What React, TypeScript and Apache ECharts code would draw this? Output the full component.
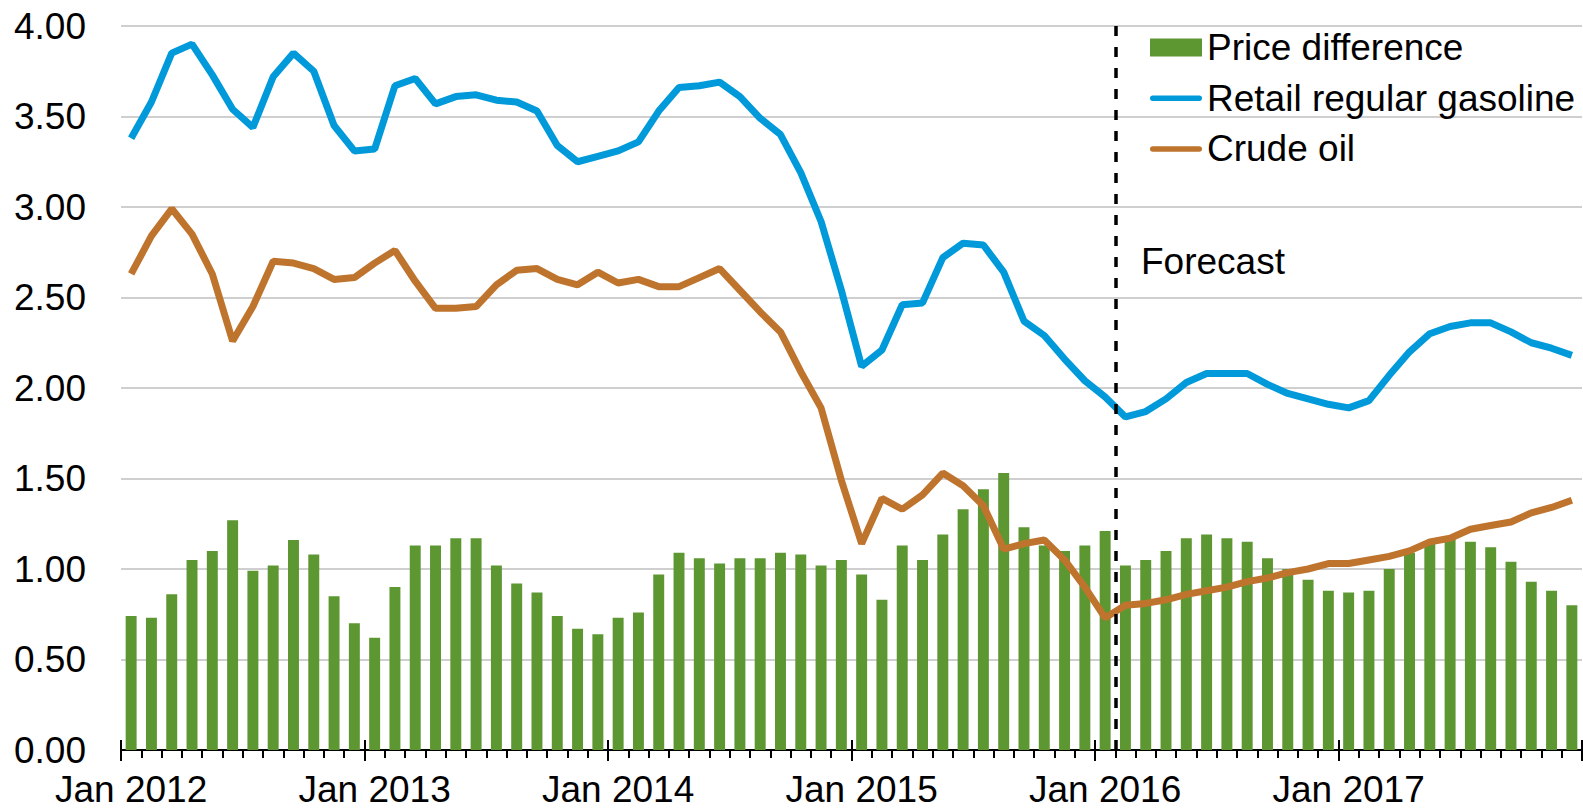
import React, { useEffect, useRef } from "react";
import * as echarts from "echarts";

const MONTHS = ["Jan", "Feb", "Mar", "Apr", "May", "Jun", "Jul", "Aug", "Sep", "Oct", "Nov", "Dec"];
const YEARS = [2012, 2013, 2014, 2015, 2016, 2017];
const categories: string[] = YEARS.flatMap((y) => MONTHS.map((m) => `${m} ${y}`));

const priceDifference = [
  0.74, 0.73, 0.86, 1.05, 1.10, 1.27, 0.99, 1.02, 1.16, 1.08, 0.85, 0.70,
  0.62, 0.90, 1.13, 1.13, 1.17, 1.17, 1.02, 0.92, 0.87, 0.74, 0.67, 0.64,
  0.73, 0.76, 0.97, 1.09, 1.06, 1.03, 1.06, 1.06, 1.09, 1.08, 1.02, 1.05,
  0.97, 0.83, 1.13, 1.05, 1.19, 1.33, 1.44, 1.53, 1.23, 1.13, 1.10, 1.13,
  1.21, 1.02, 1.05, 1.10, 1.17, 1.19, 1.17, 1.15, 1.06, 1.00, 0.94, 0.88,
  0.87, 0.88, 1.00, 1.09, 1.15, 1.17, 1.15, 1.12, 1.04, 0.93, 0.88, 0.80,
];

const retailGasoline = [
  3.38, 3.58, 3.85, 3.90, 3.73, 3.54, 3.44, 3.72, 3.85, 3.75, 3.45, 3.31,
  3.32, 3.67, 3.71, 3.57, 3.61, 3.62, 3.59, 3.58, 3.53, 3.34, 3.25, 3.28,
  3.31, 3.36, 3.53, 3.66, 3.67, 3.69, 3.61, 3.49, 3.40, 3.19, 2.92, 2.54,
  2.12, 2.21, 2.46, 2.47, 2.72, 2.80, 2.79, 2.64, 2.37, 2.29, 2.16, 2.04,
  1.95, 1.84, 1.87, 1.94, 2.03, 2.08, 2.08, 2.08, 2.02, 1.97, 1.94, 1.91,
  1.89, 1.93, 2.07, 2.20, 2.30, 2.34, 2.36, 2.36, 2.31, 2.25, 2.22, 2.18,
];

const crudeOil = [
  2.63, 2.84, 2.99, 2.85, 2.63, 2.26, 2.45, 2.70, 2.69, 2.66, 2.60, 2.61,
  2.69, 2.76, 2.59, 2.44, 2.44, 2.45, 2.57, 2.65, 2.66, 2.60, 2.57, 2.64,
  2.58, 2.60, 2.56, 2.56, 2.61, 2.66, 2.54, 2.42, 2.31, 2.09, 1.89, 1.49,
  1.14, 1.39, 1.33, 1.41, 1.53, 1.46, 1.35, 1.11, 1.14, 1.16, 1.05, 0.90,
  0.73, 0.80, 0.81, 0.83, 0.86, 0.88, 0.90, 0.93, 0.95, 0.98, 1.00, 1.03,
  1.03, 1.05, 1.07, 1.10, 1.15, 1.17, 1.22, 1.24, 1.26, 1.31, 1.34, 1.38,
];

// Forecast starts after Jan 2016 (boundary after category index 48)
const forecastBoundary = 49;
const forecastLabel = "Forecast";

const FONT = "'Liberation Sans', Arial, sans-serif";
const GREEN = "#5D9732";
const BLUE = "#009ADA";
const BROWN = "#BF742E";
const LINE_ICON = "path://M2.75,0 H49.25 A2.75,2.75 0 0 1 49.25,5.5 H2.75 A2.75,2.75 0 0 1 2.75,0 Z";

export default function App() {
  const ref = useRef<HTMLDivElement>(null);
  useEffect(() => {
    if (!ref.current) return;
    const chart = echarts.init(ref.current, undefined, { renderer: "svg" });
    const grid = { left: 121, right: 1, top: 26, bottom: 61 };
    chart.setOption({
      animation: false,
      textStyle: { fontFamily: FONT },
      grid,
      legend: {
        orient: "vertical",
        left: 1150,
        top: 29,
        padding: 0,
        itemWidth: 52,
        itemHeight: 18,
        itemGap: 13.7,
        textStyle: { fontSize: 37, color: "#000", fontFamily: FONT },
        data: [
          { name: "Price difference", icon: "rect" },
          { name: "Retail regular gasoline", icon: LINE_ICON, itemStyle: { color: BLUE } },
          { name: "Crude oil", icon: LINE_ICON, itemStyle: { color: BROWN } },
        ],
      },
      xAxis: [
        {
          type: "category",
          data: categories,
          boundaryGap: true,
          axisLine: { show: true, lineStyle: { color: "#000", width: 2 } },
          axisTick: { show: true, interval: 0, length: 8, lineStyle: { color: "#000", width: 2 } },
          axisLabel: {
            interval: 11,
            fontSize: 37,
            color: "#000",
            fontFamily: FONT,
            margin: 21,
          },
          splitLine: { show: false },
        },
        {
          type: "category",
          data: categories,
          position: "bottom",
          boundaryGap: true,
          axisLine: { show: false },
          axisTick: { show: true, interval: 11, length: 11, lineStyle: { color: "#000", width: 2 } },
          axisLabel: { show: false },
          splitLine: { show: false },
        },
        {
          type: "category",
          data: categories,
          position: "bottom",
          boundaryGap: true,
          axisLine: { show: false },
          axisTick: { show: true, inside: true, interval: 11, length: 10, lineStyle: { color: "#000", width: 2 } },
          axisLabel: { show: false },
          splitLine: { show: false },
        },
        {
          type: "value",
          min: 0,
          max: categories.length,
          show: false,
        },
      ],
      yAxis: {
        type: "value",
        min: 0,
        max: 4,
        interval: 0.5,
        axisLine: { show: false },
        axisTick: { show: false },
        axisLabel: {
          formatter: (v: number) => v.toFixed(2),
          fontSize: 37,
          color: "#000",
          fontFamily: FONT,
          margin: 35,
        },
        splitLine: { show: true, lineStyle: { color: "#BFBFBF", width: 1.5 } },
      },
      series: [
        {
          name: "Price difference",
          type: "bar",
          data: priceDifference,
          barWidth: "54%",
          itemStyle: { color: GREEN },
          z: 2,
        },
        {
          name: "Retail regular gasoline",
          type: "line",
          data: retailGasoline,
          showSymbol: false,
          symbol: "none",
          itemStyle: { color: BLUE },
          lineStyle: { color: BLUE, width: 7 },
          emphasis: { disabled: true },
          z: 3,
        },
        {
          name: "Crude oil",
          type: "line",
          data: crudeOil,
          showSymbol: false,
          symbol: "none",
          itemStyle: { color: BROWN },
          lineStyle: { color: BROWN, width: 7 },
          emphasis: { disabled: true },
          z: 4,
        },
        {
          name: "forecast-divider",
          type: "line",
          xAxisIndex: 3,
          data: [],
          symbol: "none",
          z: 5,
          markLine: {
            silent: true,
            symbol: ["none", "none"],
            label: { show: false },
            lineStyle: { color: "#000", type: [10, 11], width: 3.5 },
            data: [{ xAxis: forecastBoundary }],
          },
        },
      ],
      graphic: [
        {
          type: "text",
          left: 1141,
          top: 243,
          style: {
            text: forecastLabel,
            fontSize: 37,
            fill: "#000",
            fontFamily: FONT,
          },
        },
      ],
    });
    return () => chart.dispose();
  }, []);
  return (
    <div
      ref={ref}
      style={{ position: "fixed", left: 0, top: 0, width: 1583, height: 811, background: "#fff" }}
    />
  );
}
